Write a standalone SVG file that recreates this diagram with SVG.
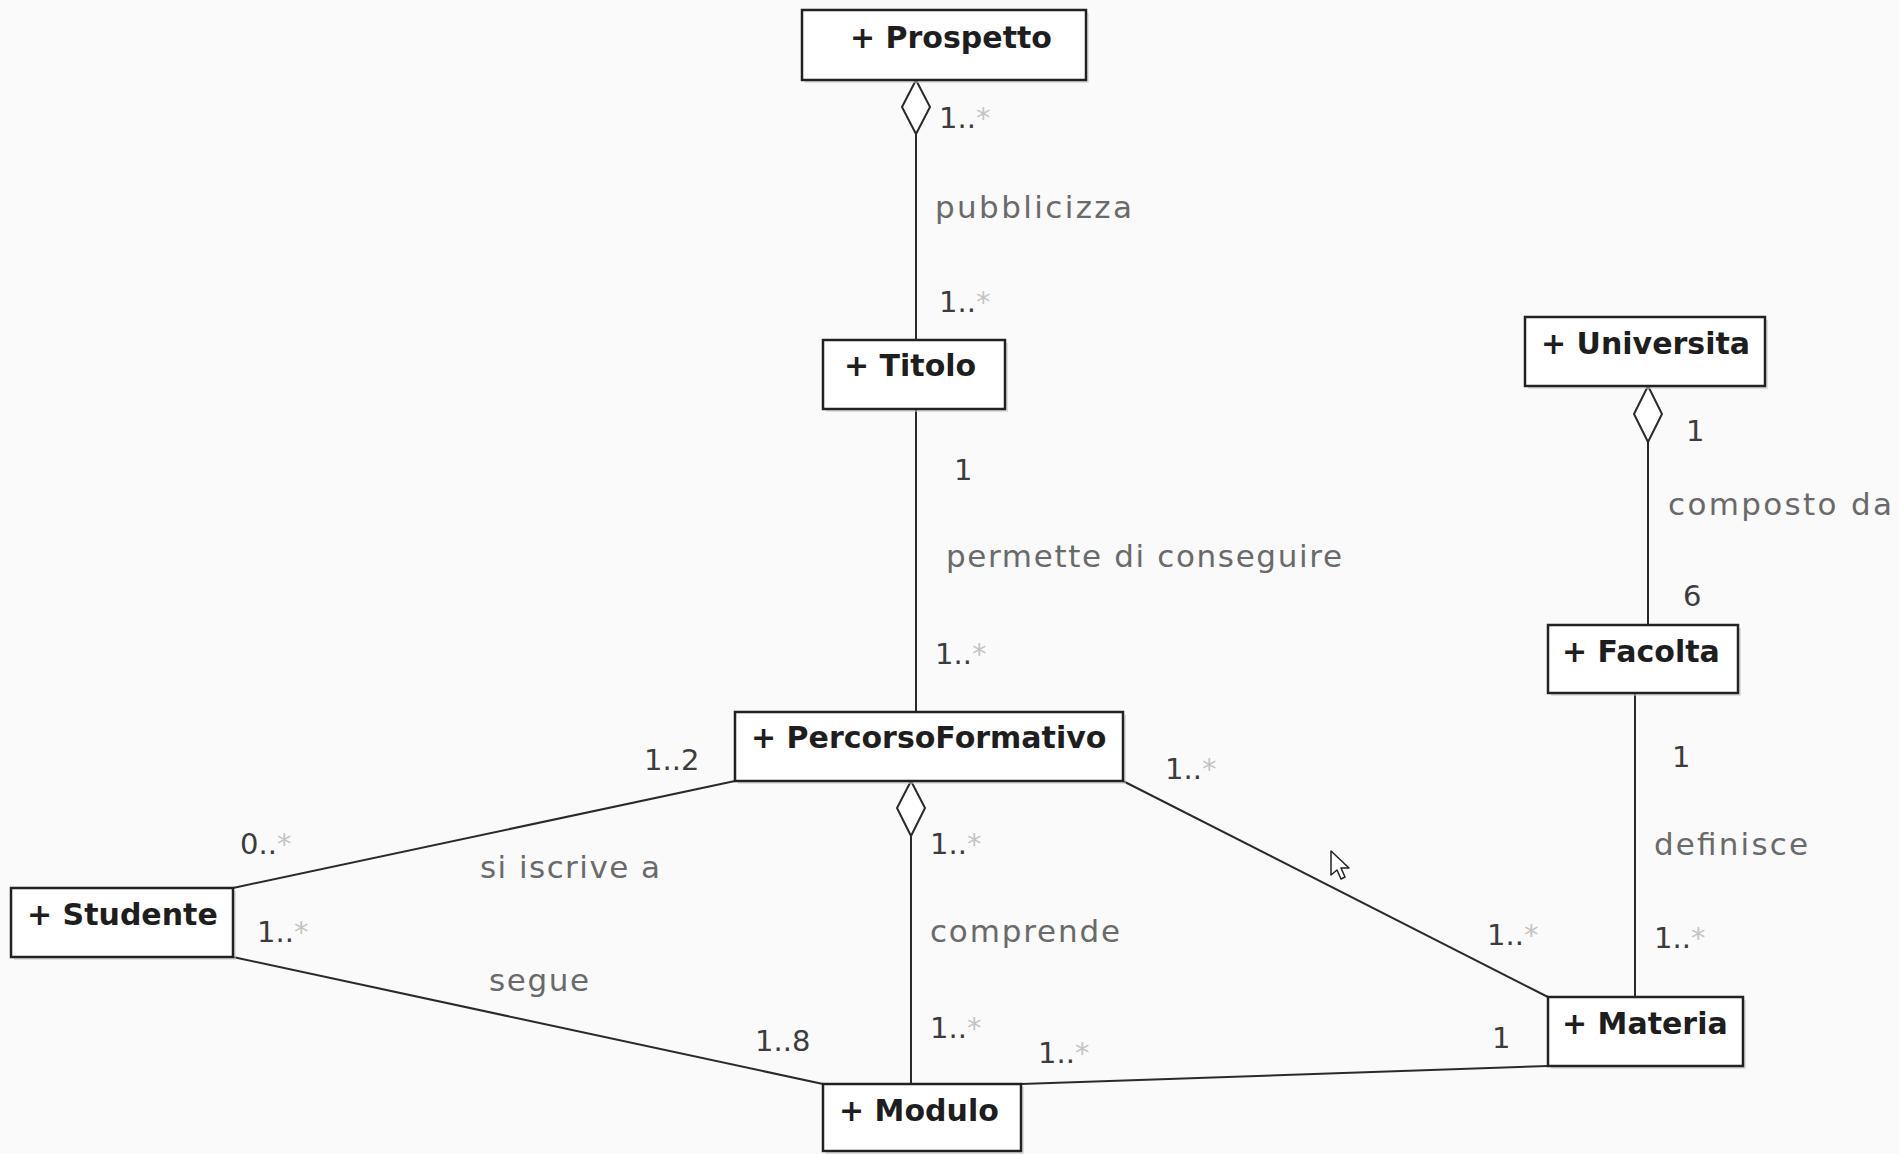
<svg xmlns="http://www.w3.org/2000/svg" width="1899" height="1154" viewBox="0 0 1899 1154">
  <defs>
    <style>
      .box { fill: #ffffff; stroke: #222222; stroke-width: 2.5; }
      .shadow { fill: #c8c8c8; opacity: 0.55; }
      .name { font-family: "DejaVu Sans", sans-serif; font-weight: bold; font-size: 30px; fill: #1e1e1e; }
      .edge { fill: none; stroke: #2a2a2a; stroke-width: 2; }
      .diamond { fill: #ffffff; stroke: #2a2a2a; stroke-width: 2; }
      .role { font-family: "DejaVu Sans", sans-serif; font-size: 31px; fill: #6a6a6a; }
      .mult { font-family: "DejaVu Sans", sans-serif; font-size: 29px; fill: #3c3c3c; }
      .star { fill: #c4c4c4; }
    </style>
  </defs>
  <rect width="1899" height="1154" fill="#fafafa"/>

  <!-- associations -->
  <g id="connectors">
    <!-- Prospetto <>- Titolo -->
    <line class="edge" x1="916" y1="134" x2="916" y2="340"/>
    <path class="diamond" d="M916 80 L930 107 L916 134 L902 107 Z"/>
    <!-- Titolo - PercorsoFormativo -->
    <line class="edge" x1="916" y1="409" x2="916" y2="712"/>
    <!-- Universita <>- Facolta -->
    <line class="edge" x1="1648" y1="442" x2="1648" y2="625"/>
    <path class="diamond" d="M1648 386 L1662 414 L1648 442 L1634 414 Z"/>
    <!-- Facolta - Materia -->
    <line class="edge" x1="1635" y1="693" x2="1635" y2="997"/>
    <!-- PercorsoFormativo <>- Modulo -->
    <line class="edge" x1="911" y1="836" x2="911" y2="1084"/>
    <path class="diamond" d="M911 781 L925 808 L911 836 L897 808 Z"/>
    <!-- Studente - PercorsoFormativo -->
    <line class="edge" x1="233" y1="888" x2="735" y2="781"/>
    <!-- Studente - Modulo -->
    <line class="edge" x1="233" y1="957" x2="823" y2="1084"/>
    <!-- PercorsoFormativo - Materia -->
    <line class="edge" x1="1123" y1="781" x2="1548" y2="997"/>
    <!-- Modulo - Materia -->
    <line class="edge" x1="1021" y1="1084" x2="1548" y2="1066"/>

    <!-- association names -->
    <text class="role" x="935" y="218" textLength="197" lengthAdjust="spacing">pubblicizza</text>
    <text class="role" x="946" y="567" textLength="396" lengthAdjust="spacing">permette di conseguire</text>
    <text class="role" x="1668" y="515" textLength="224" lengthAdjust="spacing">composto da</text>
    <text class="role" x="1654" y="855" textLength="154" lengthAdjust="spacing">definisce</text>
    <text class="role" x="930" y="942" textLength="190" lengthAdjust="spacing">comprende</text>
    <text class="role" x="480" y="878" textLength="180" lengthAdjust="spacing">si iscrive a</text>
    <text class="role" x="489" y="991" textLength="100" lengthAdjust="spacing">segue</text>

    <!-- multiplicities -->
    <text class="mult" x="939" y="128">1..<tspan class="star">*</tspan></text>
    <text class="mult" x="939" y="312">1..<tspan class="star">*</tspan></text>
    <text class="mult" x="954" y="480">1</text>
    <text class="mult" x="935" y="664">1..<tspan class="star">*</tspan></text>
    <text class="mult" x="1686" y="441">1</text>
    <text class="mult" x="1683" y="606">6</text>
    <text class="mult" x="1672" y="767">1</text>
    <text class="mult" x="1654" y="948">1..<tspan class="star">*</tspan></text>
    <text class="mult" x="930" y="854">1..<tspan class="star">*</tspan></text>
    <text class="mult" x="930" y="1038">1..<tspan class="star">*</tspan></text>
    <text class="mult" x="644" y="770">1..2</text>
    <text class="mult" x="240" y="854">0..<tspan class="star">*</tspan></text>
    <text class="mult" x="257" y="942">1..<tspan class="star">*</tspan></text>
    <text class="mult" x="755" y="1051">1..8</text>
    <text class="mult" x="1165" y="779">1..<tspan class="star">*</tspan></text>
    <text class="mult" x="1487" y="945">1..<tspan class="star">*</tspan></text>
    <text class="mult" x="1038" y="1063">1..<tspan class="star">*</tspan></text>
    <text class="mult" x="1492" y="1048">1</text>
  </g>

  <!-- classes -->
  <g id="prospetto">
    <rect class="shadow" x="805" y="13" width="284" height="70"/>
    <rect class="box" x="802" y="10" width="284" height="70"/>
    <text class="name" x="850" y="48">+ Prospetto</text>
  </g>
  <g id="titolo">
    <rect class="shadow" x="826" y="343" width="182" height="69"/>
    <rect class="box" x="823" y="340" width="182" height="69"/>
    <text class="name" x="844" y="376">+ Titolo</text>
  </g>
  <g id="universita">
    <rect class="shadow" x="1528" y="320" width="240" height="69"/>
    <rect class="box" x="1525" y="317" width="240" height="69"/>
    <text class="name" x="1541" y="354">+ Universita</text>
  </g>
  <g id="facolta">
    <rect class="shadow" x="1551" y="628" width="190" height="68"/>
    <rect class="box" x="1548" y="625" width="190" height="68"/>
    <text class="name" x="1562" y="662">+ Facolta</text>
  </g>
  <g id="percorso-formativo">
    <rect class="shadow" x="738" y="715" width="388" height="69"/>
    <rect class="box" x="735" y="712" width="388" height="69"/>
    <text class="name" x="751" y="748">+ PercorsoFormativo</text>
  </g>
  <g id="studente">
    <rect class="shadow" x="14" y="891" width="222" height="69"/>
    <rect class="box" x="11" y="888" width="222" height="69"/>
    <text class="name" x="27" y="925">+ Studente</text>
  </g>
  <g id="materia">
    <rect class="shadow" x="1551" y="1000" width="195" height="69"/>
    <rect class="box" x="1548" y="997" width="195" height="69"/>
    <text class="name" x="1562" y="1034">+ Materia</text>
  </g>
  <g id="modulo">
    <rect class="shadow" x="826" y="1087" width="198" height="67"/>
    <rect class="box" x="823" y="1084" width="198" height="67"/>
    <text class="name" x="839" y="1121">+ Modulo</text>
  </g>

  <!-- pointer -->
  <path d="M1331 851 L1331 875 L1337 870 L1341 879 L1345 877 L1341 868 L1349 868 Z" fill="#ffffff" stroke="#222222" stroke-width="1.5" stroke-linejoin="round"/>
</svg>
